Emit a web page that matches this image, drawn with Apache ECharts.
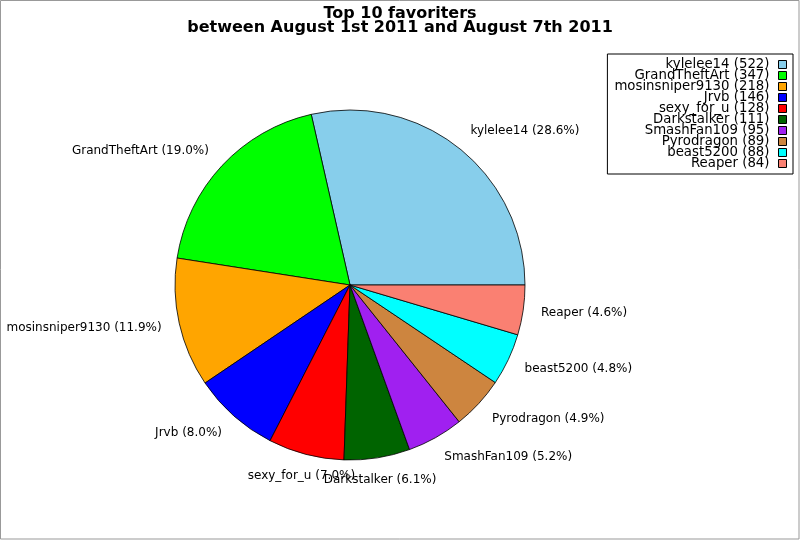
<!DOCTYPE html>
<html>
<head>
<meta charset="utf-8">
<script src="https://cdn.jsdelivr.net/npm/echarts@6/dist/echarts.min.js"></script>
<style>
html,body{margin:0;padding:0;background:#fff;}
#c{width:800px;height:540px;}
</style>
</head>
<body>
<div id="c"></div>
<script>
const names = ['kylelee14','GrandTheftArt','mosinsniper9130','Jrvb','sexy_for_u','Darkstalker','SmashFan109','Pyrodragon','beast5200','Reaper'];
const values = [522,347,218,146,128,111,95,89,88,84];
const colors = ['#87CEEB','#00FF00','#FFA500','#0000FF','#FF0000','#006400','#A020F0','#CD853F','#00FFFF','#FA8072'];
const titleText = 'Top 10 favoriters\nbetween August 1st 2011 and August 7th 2011';

const total = values.reduce((a,b)=>a+b,0);
const FONT = 'DejaVu Sans';
const CX = 350, CY = 285, R = 175;

const chart = echarts.init(document.getElementById('c'), null, {renderer:'canvas'});

function labelPos(params){
  let mid;
  try {
    const lay = chart.getModel().getSeriesByIndex(0).getData().getItemLayout(params.dataIndex);
    mid = (lay.startAngle + lay.endAngle)/2;
  } catch(e) {
    let cum = 0;
    for (let i=0;i<params.dataIndex;i++) cum += values[i];
    mid = -(cum + values[params.dataIndex]/2)/total*2*Math.PI;
  }
  const ux = Math.cos(mid), uy = Math.sin(mid);
  const align = ux > 0.35 ? 'left' : (ux < -0.35 ? 'right' : 'center');
  return {x: CX + (R+18)*ux, y: CY + (R+22)*uy, align: align, verticalAlign: 'middle'};
}

chart.setOption({
  animation:false,
  backgroundColor:'#fff',
  title:{
    text:titleText,
    left:'center',
    top:2,
    textStyle:{fontFamily:FONT,fontSize:16,fontWeight:'bold',color:'#000',lineHeight:14}
  },
  graphic:[{
    type:'rect',
    shape:{x:0.5,y:0.5,width:798.5,height:538.5},
    style:{fill:'none',stroke:'#999',lineWidth:1},
    silent:true
  }],
  legend:{
    orient:'vertical',
    align:'right',
    right:7,
    top:54,
    padding:[4,6,4,7],
    itemGap:-2,
    itemWidth:8,
    itemHeight:8,
    icon:'rect',
    borderColor:'#000',
    borderWidth:1,
    selectedMode:false,
    itemStyle:{borderColor:'#000',borderWidth:1},
    textStyle:{fontFamily:FONT,fontSize:13.3,lineHeight:11,color:'#000',padding:[0,4,0,0]},
    data:names,
    formatter:function(n){ return n + ' (' + values[names.indexOf(n)] + ')'; }
  },
  series:[{
    type:'pie',
    center:[CX,CY],
    radius:R,
    startAngle:0,
    clockwise:false,
    avoidLabelOverlap:false,
    itemStyle:{borderColor:'#000',borderWidth:0.8},
    emphasis:{disabled:true},
    label:{
      show:true,
      position:'outside',
      fontFamily:FONT,
      fontSize:12,
      color:'#000',
      formatter:function(p){ return p.name + ' (' + (p.value/total*100).toFixed(1) + '%)'; }
    },
    labelLine:{show:false},
    labelLayout:labelPos,
    data:names.map((n,i)=>({name:n,value:values[i],itemStyle:{color:colors[i]}}))
  }]
});
</script>
</body>
</html>
